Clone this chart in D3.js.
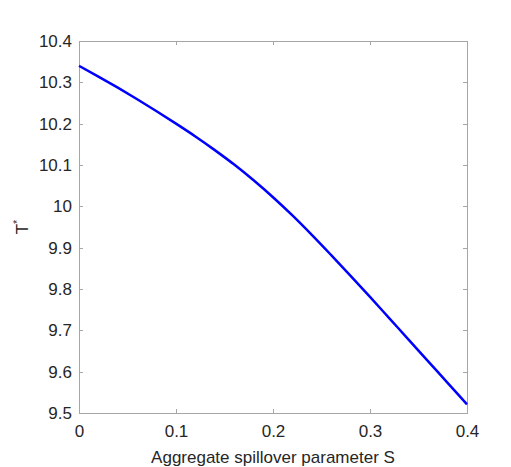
<!DOCTYPE html>
<html>
<head>
<meta charset="utf-8">
<script src="https://cdn.jsdelivr.net/npm/d3@7"></script>
<style>
  body { margin: 0; background: #fff; }
  svg text { font-family: "Liberation Sans", Arial, sans-serif; fill: #262626; }
</style>
</head>
<body>
<svg id="chart" width="511" height="467"></svg>
<script>
// spillover parameter S and the optimal T*
var sValues = [0, 0.02, 0.04, 0.06, 0.08, 0.10, 0.12, 0.14, 0.16, 0.18, 0.20,
               0.22, 0.24, 0.26, 0.28, 0.30, 0.32, 0.34, 0.36, 0.38, 0.40];
var tValues = [10.340, 10.314, 10.287, 10.259, 10.230, 10.200, 10.169, 10.136, 10.101, 10.063, 10.022,
               9.978, 9.931, 9.882, 9.832, 9.781, 9.729, 9.677, 9.625, 9.573, 9.521];
var xTicks = [0, 0.1, 0.2, 0.3, 0.4];
var yTicks = [9.5, 9.6, 9.7, 9.8, 9.9, 10, 10.1, 10.2, 10.3, 10.4];

var plotL = 79, plotR = 467, plotT = 41, plotB = 413;
var svg = d3.select('#chart');

var x = d3.scaleLinear().domain([0, 0.4]).range([plotL, plotR]);
var y = d3.scaleLinear().domain([9.5, 10.4]).range([plotB, plotT]);

var axisColor = '#a6a6a6';
var tickLen = 4;

// box
svg.append('rect')
    .attr('x', plotL).attr('y', plotT)
    .attr('width', plotR - plotL).attr('height', plotB - plotT)
    .attr('fill', '#fff').attr('stroke', axisColor).attr('stroke-width', 1)
    .attr('shape-rendering', 'crispEdges');

function fmt(d) { return String(+d.toFixed(1)); }

// bottom / top ticks point inward
var xAxis = d3.axisBottom(x).tickValues(xTicks).tickSize(-tickLen).tickPadding(12).tickFormat(fmt);
var gx = svg.append('g').attr('transform', 'translate(0,' + plotB + ')').call(xAxis);
var xTop = d3.axisTop(x).tickValues(xTicks).tickSize(-tickLen).tickFormat('');
var gxt = svg.append('g').attr('transform', 'translate(0,' + plotT + ')').call(xTop);

var yAxis = d3.axisLeft(y).tickValues(yTicks).tickSize(-tickLen).tickPadding(7).tickFormat(fmt);
var gy = svg.append('g').attr('transform', 'translate(' + plotL + ',0)').call(yAxis);
var yRight = d3.axisRight(y).tickValues(yTicks).tickSize(-tickLen).tickFormat('');
var gyr = svg.append('g').attr('transform', 'translate(' + plotR + ',0)').call(yRight);

[gx, gxt, gy, gyr].forEach(function (g) {
    g.select('.domain').remove();
    g.selectAll('.tick line').attr('stroke', axisColor).attr('shape-rendering', 'crispEdges');
    g.selectAll('.tick text').attr('font-size', 17).attr('fill', '#262626')
        .style('font-family', '"Liberation Sans", Arial, sans-serif');
});

// the curve
var line = d3.line()
    .x(function (d, i) { return x(sValues[i]); })
    .y(function (d) { return y(d); })
    .curve(d3.curveMonotoneX);

svg.append('path')
    .datum(tValues)
    .attr('d', line)
    .attr('fill', 'none')
    .attr('stroke', '#0000ff')
    .attr('stroke-width', 2.5);

// labels
svg.append('text')
    .attr('x', (plotL + plotR) / 2).attr('y', 463)
    .attr('text-anchor', 'middle').attr('font-size', 17)
    .text('Aggregate spillover parameter S');

var yl = svg.append('text')
    .attr('transform', 'translate(28,' + (plotT + plotB) / 2 + ') rotate(-90)')
    .attr('text-anchor', 'middle').attr('font-size', 17);
yl.append('tspan').text('T');
yl.append('tspan').attr('font-size', 11).attr('dy', -7).text('*');
</script>
</body>
</html>
